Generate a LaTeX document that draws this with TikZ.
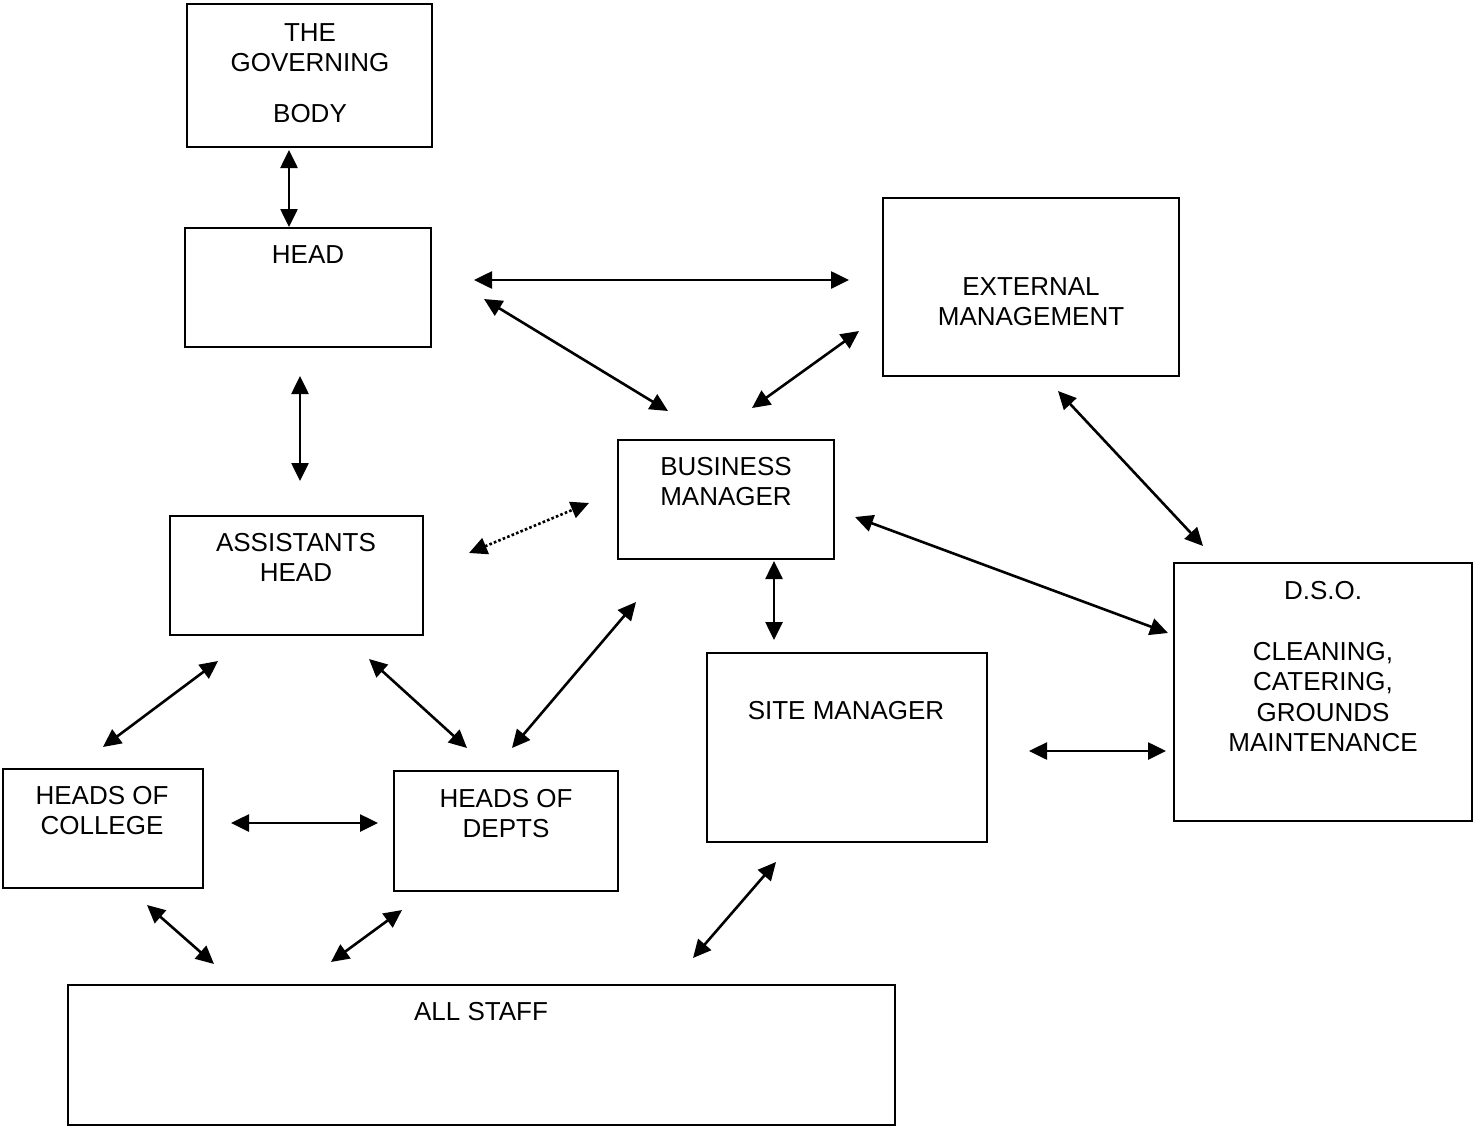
\documentclass[tikz,border=0pt]{standalone}
\usepackage{fontspec}
\setmainfont{Liberation Sans}
\usetikzlibrary{arrows.meta}
\tikzset{
  box/.style={draw=black, line width=1.7pt, rectangle, inner sep=0pt},
  lbl/.style={anchor=north, inner sep=0pt, align=center, font=\fontsize{26}{30.5}\selectfont},
  arr/.style={line width=2.6pt, arrows={Triangle[length=18pt,width=17pt]-Triangle[length=18pt,width=17pt]}},
  darr/.style={arr, dash pattern=on 2.6pt off 2.2pt}
}
\begin{document}
\begin{tikzpicture}[x=1pt,y=-1pt]
\useasboundingbox (0,0) rectangle (1474,1127);
% boxes
\node[box, minimum width=245pt, minimum height=143pt] (gb) at (309.5,75.5) {};
\node[box, minimum width=246pt, minimum height=119pt] (head) at (308,287.5) {};
\node[box, minimum width=296pt, minimum height=178pt] (ext) at (1031,287) {};
\node[box, minimum width=216pt, minimum height=119pt] (bm) at (726,499.5) {};
\node[box, minimum width=253pt, minimum height=119pt] (ah) at (296.5,575.5) {};
\node[box, minimum width=298pt, minimum height=258pt] (dso) at (1323,692) {};
\node[box, minimum width=280pt, minimum height=189pt] (sm) at (847,747.5) {};
\node[box, minimum width=200pt, minimum height=119pt] (hoc) at (103,828.5) {};
\node[box, minimum width=224pt, minimum height=120pt] (hod) at (506,831) {};
\node[box, minimum width=827pt, minimum height=140pt] (as) at (481.5,1055) {};
% labels
\node[lbl] (gbt) at (310,23) {THE\\GOVERNING\\[20pt]BODY};
\node[lbl] (headt) at (308,245) {HEAD};
\node[lbl] (extt) at (1031,277) {EXTERNAL\\MANAGEMENT};
\node[lbl] (bmt) at (726,457) {BUSINESS\\MANAGER};
\node[lbl] (aht) at (296,533) {ASSISTANTS\\HEAD};
\node[lbl] (dsot) at (1323,581) {D.S.O.\\[30.5pt]CLEANING,\\CATERING,\\GROUNDS\\MAINTENANCE};
\node[lbl] (smt) at (846,701) {SITE MANAGER};
\node[lbl] (hoct) at (102,786) {HEADS OF\\COLLEGE};
\node[lbl] (hodt) at (506,789) {HEADS OF\\DEPTS};
\node[lbl] (ast) at (481,1002) {ALL STAFF};
% connector end points
\coordinate (c1a) at (289,150);  \coordinate (c1b) at (289,227);
\coordinate (c2a) at (474,280);  \coordinate (c2b) at (849,280);
\coordinate (c3a) at (484,299);  \coordinate (c3b) at (668,411);
\coordinate (c4a) at (859,331);  \coordinate (c4b) at (752,408);
\coordinate (c5a) at (300,376);  \coordinate (c5b) at (300,481);
\coordinate (c6a) at (469,553);  \coordinate (c6b) at (589,503);
\coordinate (c7a) at (1058,391); \coordinate (c7b) at (1203,546);
\coordinate (c8a) at (855,517);  \coordinate (c8b) at (1168,633);
\coordinate (c9a) at (774,561);  \coordinate (c9b) at (774,640);
\coordinate (c10a) at (1029,751); \coordinate (c10b) at (1166,751);
\coordinate (c11a) at (218,661); \coordinate (c11b) at (103,747);
\coordinate (c12a) at (369,659); \coordinate (c12b) at (467,748);
\coordinate (c13a) at (636,602); \coordinate (c13b) at (512,748);
\coordinate (c14a) at (231,823); \coordinate (c14b) at (378,823);
\coordinate (c15a) at (147,905); \coordinate (c15b) at (214,964);
\coordinate (c16a) at (402,910); \coordinate (c16b) at (331,962);
\coordinate (c17a) at (776,862); \coordinate (c17b) at (693,958);
% connectors
\draw[arr] (c1a) -- (c1b);
\draw[arr] (c2a) -- (c2b);
\draw[arr] (c3a) -- (c3b);
\draw[arr] (c4a) -- (c4b);
\draw[arr] (c5a) -- (c5b);
\draw[darr] (c6a) -- (c6b);
\draw[arr] (c7a) -- (c7b);
\draw[arr] (c8a) -- (c8b);
\draw[arr] (c9a) -- (c9b);
\draw[arr] (c10a) -- (c10b);
\draw[arr] (c11a) -- (c11b);
\draw[arr] (c12a) -- (c12b);
\draw[arr] (c13a) -- (c13b);
\draw[arr] (c14a) -- (c14b);
\draw[arr] (c15a) -- (c15b);
\draw[arr] (c16a) -- (c16b);
\draw[arr] (c17a) -- (c17b);
\end{tikzpicture}
\end{document}
